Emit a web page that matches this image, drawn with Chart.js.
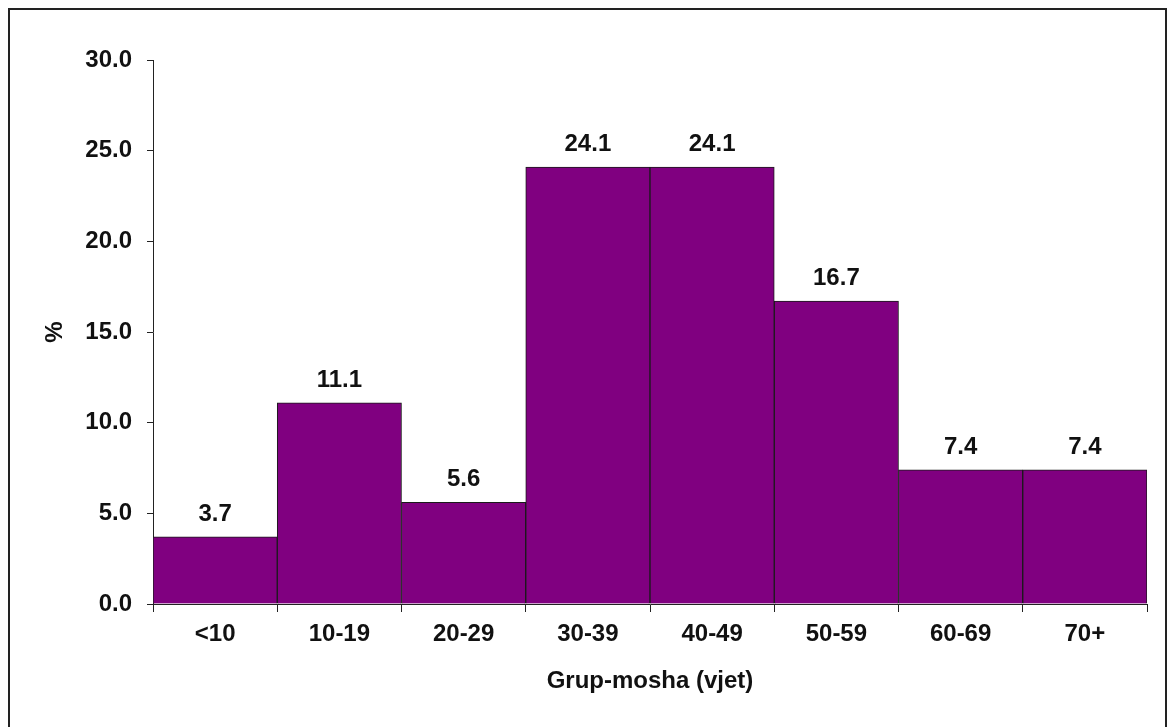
<!DOCTYPE html>
<html>
<head>
<meta charset="utf-8">
<script src="https://cdn.jsdelivr.net/npm/chart.js@4/dist/chart.umd.min.js"></script>
<style>
  html, body { margin: 0; padding: 0; background: #fff; }
  canvas { display: block; }
</style>
</head>
<body>
<canvas id="chart" width="1170" height="727"></canvas>
<script>
// Age groups and share of cases (%)
const categories = ['<10', '10-19', '20-29', '30-39', '40-49', '50-59', '60-69', '70+'];
const percentages = [3.7, 11.1, 5.6, 24.1, 24.1, 16.7, 7.4, 7.4];
const yMin = 0;
const yMax = 30;
const yStep = 5;
const xTitle = 'Grup-mosha (vjet)';
const yTitle = '%';

const FONT = { family: '"Liberation Sans", Arial, sans-serif', size: 24, weight: 'bold' };

// White page with a thin dark frame
const framePlugin = {
  id: 'frame',
  beforeDraw(chart) {
    const ctx = chart.ctx;
    ctx.save();
    ctx.fillStyle = '#ffffff';
    ctx.fillRect(0, 0, chart.width, chart.height);
    ctx.strokeStyle = '#222222';
    ctx.lineWidth = 2;
    ctx.strokeRect(9, 9, 1157, 740);
    ctx.restore();
  }
};

// Value written above each bar
const valueLabels = {
  id: 'valueLabels',
  afterDatasetsDraw(chart) {
    const ctx = chart.ctx;
    const meta = chart.getDatasetMeta(0);
    const values = chart.data.datasets[0].data;
    ctx.save();
    ctx.font = `bold ${FONT.size}px ${FONT.family}`;
    ctx.fillStyle = '#111111';
    ctx.textAlign = 'center';
    ctx.textBaseline = 'alphabetic';
    meta.data.forEach((bar, i) => {
      ctx.fillText(values[i].toFixed(1), bar.x, bar.y - 16);
    });
    ctx.restore();
  }
};

new Chart(document.getElementById('chart'), {
  type: 'bar',
  data: {
    labels: categories,
    datasets: [{
      data: percentages,
      backgroundColor: '#800080',
      borderColor: '#1a1a1a',
      borderWidth: 1,
      categoryPercentage: 1.0,
      barPercentage: 1.0
    }]
  },
  options: {
    responsive: false,
    animation: false,
    devicePixelRatio: 1,
    layout: { padding: { left: 40, right: 23, top: 60, bottom: 0 } },
    plugins: {
      legend: { display: false },
      tooltip: { enabled: false }
    },
    scales: {
      x: {
        grid: {
          offset: true,
          drawOnChartArea: false,
          drawTicks: true,
          tickLength: 8,
          color: '#222222',
          lineWidth: 1
        },
        border: { display: true, color: '#222222', width: 1 },
        ticks: { color: '#111111', font: FONT, padding: 8, maxRotation: 0 },
        title: {
          display: true,
          text: xTitle,
          color: '#111111',
          font: FONT,
          padding: { top: 0, bottom: 31 }
        },
        afterFit(scale) { scale.height = 123; }
      },
      y: {
        min: yMin,
        max: yMax,
        grid: {
          drawOnChartArea: false,
          drawTicks: true,
          tickLength: 6,
          color: '#222222',
          lineWidth: 1
        },
        border: { display: true, color: '#222222', width: 1 },
        ticks: {
          stepSize: yStep,
          color: '#111111',
          font: FONT,
          padding: 15,
          callback: (v) => Number(v).toFixed(1)
        },
        title: {
          display: true,
          text: yTitle,
          color: '#111111',
          font: FONT,
          padding: { top: 1, bottom: 0 }
        },
        afterFit(scale) { scale.width = 113; }
      }
    }
  },
  plugins: [framePlugin, valueLabels]
});
</script>
</body>
</html>
